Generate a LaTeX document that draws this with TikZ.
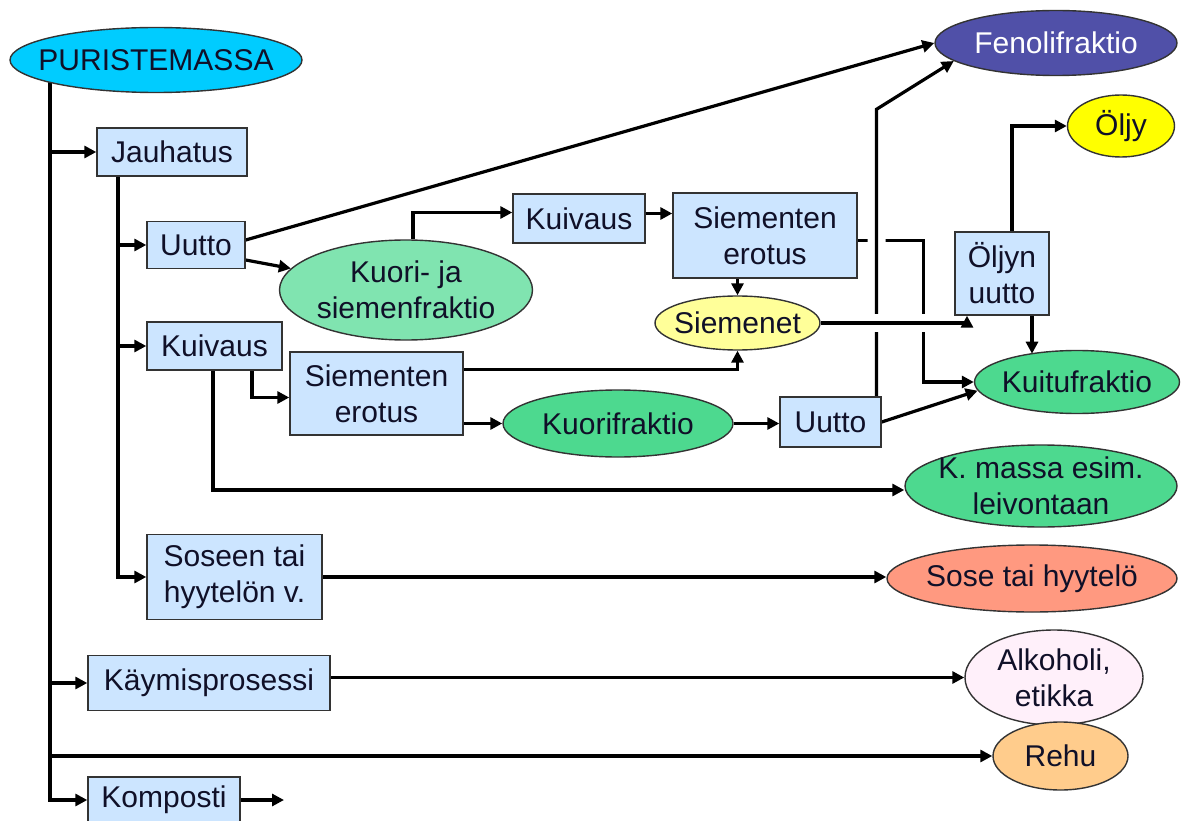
\documentclass[tikz,border=0pt]{standalone}
\usepackage{fontspec}
\setmainfont{Liberation Sans}
\usetikzlibrary{shapes.geometric,arrows.meta,calc}
\pgfdeclarelayer{bg}
\pgfsetlayers{bg,main}
\definecolor{boxblue}{HTML}{CCE5FF}
\definecolor{pcyan}{HTML}{00CCFF}
\definecolor{fenoc}{HTML}{5050A8}
\definecolor{mintc}{HTML}{80E4B0}
\definecolor{greenc}{HTML}{4DD98F}
\definecolor{siemc}{HTML}{FFFF99}
\definecolor{oljyc}{HTML}{FFFF00}
\definecolor{sosec}{HTML}{FF9980}
\definecolor{alkc}{HTML}{FFF0FA}
\definecolor{rehuc}{HTML}{FFCC8C}
\definecolor{txt}{HTML}{101028}
\tikzset{
  box/.style={rectangle, draw=black!80, line width=1.4pt, fill=boxblue, inner sep=0pt,
    align=center, text=txt, font=\fontsize{30}{36}\selectfont},
  oval/.style={ellipse, draw=black!80, line width=1.4pt, inner xsep=-40pt, inner ysep=-20pt,
    align=center, text=txt, font=\fontsize{30}{36}\selectfont},
  conn/.style={line width=3.2pt, -{Triangle[length=12pt,width=12pt]}},
  gap/.style={preaction={draw=white, line width=18pt, -}},
}
\begin{document}
\begin{tikzpicture}[x=1pt,y=-1pt]
\useasboundingbox (0,0) rectangle (1181,821);

% ellipses
\node[oval, fill=pcyan, minimum width=292pt, minimum height=65pt] (P) at (156,60) {PURISTEMASSA};
\node[oval, fill=fenoc, text=white, minimum width=242pt, minimum height=65pt] (Feno) at (1056,43) {Fenolifraktio};
\node[oval, fill=oljyc, minimum width=107pt, minimum height=62pt] (Olj) at (1121,126) {Öljy};
\node[oval, fill=mintc, minimum width=253pt, minimum height=100pt] (KS) at (406,290) {Kuori- ja\\siemenfraktio};
\node[oval, fill=siemc, minimum width=165pt, minimum height=54pt] (Sie) at (737.5,323) {Siemenet};
\node[oval, fill=greenc, minimum width=205pt, minimum height=63pt] (Kuitu) at (1077,382) {Kuitufraktio};
\node[oval, fill=greenc, minimum width=230pt, minimum height=67pt] (Kf) at (618,423.5) {Kuorifraktio};
\node[oval, fill=greenc, minimum width=272pt, minimum height=82pt] (KM) at (1041,486) {K. massa esim.\\leivontaan};
\node[oval, fill=sosec, minimum width=290pt, minimum height=67pt] (Sose) at (1032,578.5) {Sose tai hyytelö};
\node[oval, fill=alkc, minimum width=178pt, minimum height=95pt] (Alk) at (1054,677.5) {Alkoholi,\\etikka};
\node[oval, fill=rehuc, minimum width=135pt, minimum height=68pt] (Re) at (1060.5,756) {Rehu};

% boxes
\node[box, minimum width=150pt, minimum height=48pt] (Jau) at (172,152) {Jauhatus};
\node[box, minimum width=98pt, minimum height=47pt] (U1) at (196,245) {Uutto};
\node[box, minimum width=132pt, minimum height=49pt] (Kv2) at (579,218.5) {Kuivaus};
\node[box, minimum width=184pt, minimum height=85pt] (SE1) at (765,235.5) {Siementen\\erotus};
\node[box, minimum width=94pt, minimum height=83pt] (Ol) at (1002,273.5) {Öljyn\\uutto};
\node[box, minimum width=135pt, minimum height=48pt] (Kv1) at (214.5,346) {Kuivaus};
\node[box, minimum width=173pt, minimum height=83pt] (SE2) at (376.5,393.5) {Siementen\\erotus};
\node[box, minimum width=101pt, minimum height=50pt] (U2) at (830.5,422) {Uutto};
\node[box, minimum width=175pt, minimum height=85pt] (So) at (234.5,577) {Soseen tai\\hyytelön v.};
\node[box, minimum width=242pt, minimum height=55pt] (Ka) at (209,683) {Käymisprosessi};
\node[box, minimum width=152pt, minimum height=46pt] (Kom) at (164,800) {Komposti};

\coordinate (T) at (50,60);
\coordinate (J) at (118,152);
\coordinate (KomEnd) at (284,800);

\begin{pgfonlayer}{bg}
% trunk
\draw[conn] (T) |- (Kom.west);
\draw[conn] (T |- Jau.west) -- (Jau.west);
\draw[conn] (T |- Ka.west) -- (Ka.west);
\draw[conn] (T |- Re.west) -- (Re.west);
\draw[conn] (Kom.east) -- (KomEnd);
% Jauhatus stem
\draw[conn] (J) |- (So.west);
\draw[conn] (J |- U1.west) -- (U1.west);
\draw[conn] (J |- Kv1.west) -- (Kv1.west);
% Uutto 1
\draw[conn] ([yshift=5pt]U1.east) -- (Feno.west);
\draw[conn] ([yshift=-15pt]U1.east) -- (KS);
% Kuori- ja siemenfraktio
\draw[conn] ([xshift=7pt]KS.north) |- ([yshift=6pt]Kv2.west);
\draw[conn] ([yshift=5pt]Kv2.east) -- ([yshift=5pt]Kv2.east -| SE1.west);
\draw[conn] (Sie.north |- SE1.south) -- (Sie.north);
\draw[conn] ([yshift=-5pt]SE1.east) -| ([xshift=-50pt]Kuitu.west) -- (Kuitu.west);
% Kuivaus 1
\draw[conn] ([xshift=37.5pt]Kv1.south) |- ([yshift=-4pt]SE2.west);
\draw[conn] ([xshift=-1.5pt]Kv1.south) |- ([yshift=-4pt]KM.west);
\draw[conn] ([yshift=24pt]SE2.east) -| (Sie.south);
\draw[conn] (SE2.east |- Kf.west) -- (Kf.west);
\draw[conn] (Kf.east) -- (Kf.east -| U2.west);
\draw[conn] (U2.east) -- (Kuitu.185);
% Uutto 2 -> Fenolifraktio (crosses over)
\draw[conn, gap] ([xshift=46pt]U2.north) -- ++(0,-287) -- (Feno.190);
% Siemenet -> Oljyn uutto (crosses over)
\draw[conn, gap] (Sie.east) -| ([xshift=-35pt]Ol.south);
\draw[conn] ([xshift=10pt]Ol.north) |- (Olj.west);
\draw[conn] ([xshift=30pt]Ol.south) -- ++(0,38);
% Soseen, Kaymis
\draw[conn] (So.east) -- (So.east -| Sose.west);
\draw[conn] (Ka.east |- Alk.west) -- (Alk.west);
\end{pgfonlayer}
\end{tikzpicture}
\end{document}
